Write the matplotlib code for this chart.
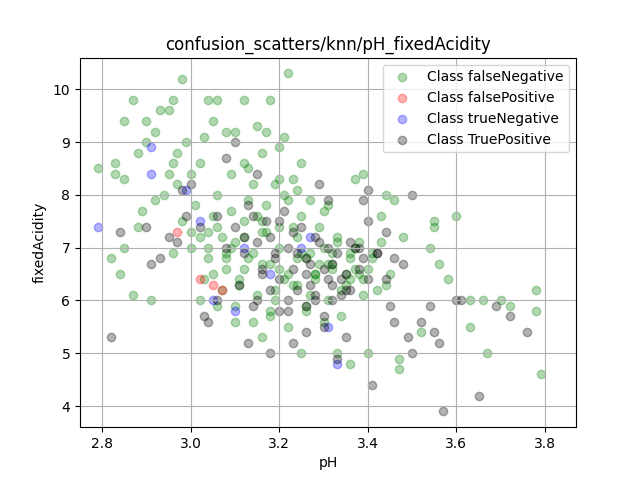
import matplotlib
matplotlib.use('Agg')
import matplotlib.pyplot as plt

# estimated points
fn_x = [2.79, 2.83, 2.83, 2.85, 2.85, 2.87, 2.88, 2.90, 2.90, 2.92, 2.93, 2.95, 2.96, 2.98, 2.99, 2.97,
        2.96, 2.95, 3.04, 3.06, 3.05, 3.03, 3.08, 3.10, 3.12, 3.15, 3.17, 3.18, 3.22, 3.21, 3.20, 3.25,
        3.37, 3.39, 3.44, 3.46, 3.43, 3.48, 3.55, 3.55, 3.60, 3.54, 3.56, 3.58, 3.63, 3.66, 3.70, 3.72,
        3.78, 3.78, 3.79, 3.67, 3.63, 3.52, 3.47, 3.47, 3.40, 3.36, 3.33, 3.25, 3.16, 3.10, 3.06, 2.91,
        2.87, 2.84, 2.82, 2.85, 2.88, 2.89, 2.92, 2.94, 2.97, 3.00, 3.02,
        3.00, 3.02, 3.04, 3.06, 3.08, 3.10, 3.12, 3.14, 3.16, 3.18, 3.20, 3.22, 3.24, 3.26, 3.28, 3.30,
        3.32, 3.34, 3.36, 3.38, 3.01, 3.03, 3.05, 3.07, 3.09, 3.11, 3.13, 3.15, 3.17, 3.19, 3.21, 3.23,
        3.25, 3.27, 3.29, 3.31, 3.33, 3.35, 3.37, 3.39, 3.41, 2.98, 3.02, 3.06, 3.10, 3.14, 3.18, 3.22,
        3.26, 3.30, 3.34, 3.38, 3.42, 3.04, 3.08, 3.12, 3.16, 3.20, 3.24, 3.28, 3.32, 3.36, 3.40, 3.44,
        3.05, 3.09, 3.13, 3.17, 3.21, 3.25, 3.29, 3.33, 3.37, 3.41, 3.45, 3.07, 3.11, 3.15, 3.19, 3.23,
        3.27, 3.31, 3.35, 3.39, 3.43, 2.96, 3.00, 3.04, 3.08, 3.12, 3.16, 3.20, 3.24, 3.28, 3.32, 3.36,
        3.14, 3.18, 3.22, 3.26, 3.30, 3.20, 3.24, 3.12, 3.16, 3.09, 3.13, 3.19, 3.23, 3.27, 3.31]
fn_y = [8.5, 8.6, 8.4, 8.3, 9.4, 9.8, 8.8, 9.4, 9.0, 9.2, 9.6, 9.6, 9.8, 10.2, 9.0, 8.8,
        8.6, 8.4, 9.8, 9.8, 9.4, 9.1, 9.2, 9.2, 9.8, 9.3, 9.2, 9.8, 10.3, 9.1, 8.9, 8.6,
        8.3, 8.4, 8.0, 7.9, 7.6, 7.2, 7.5, 7.4, 7.6, 7.0, 6.7, 6.4, 6.0, 6.0, 6.0, 5.9,
        6.2, 5.8, 4.6, 5.0, 5.5, 5.4, 4.9, 4.7, 5.0, 4.8, 5.0, 5.0, 5.3, 5.6, 5.9, 6.0,
        6.1, 6.5, 6.8, 7.0, 7.4, 7.7, 7.9, 8.0, 8.2, 8.4, 8.6,
        7.0, 7.2, 6.8, 7.4, 6.6, 7.1, 7.5, 6.9, 7.3, 6.7, 7.0, 6.5, 7.2, 6.8, 6.4, 7.0,
        6.6, 6.2, 6.9, 6.5, 7.8, 6.4, 7.6, 6.2, 7.7, 6.3, 7.9, 6.1, 7.8, 6.0, 8.0, 6.3,
        7.6, 6.1, 7.4, 6.0, 7.2, 6.3, 7.0, 6.1, 6.8, 7.5, 6.0, 8.0, 5.9, 8.2, 5.8, 7.9,
        5.8, 7.7, 5.7, 7.1, 6.2, 7.3, 6.9, 6.6, 7.5, 6.6, 6.8, 6.5, 6.7, 6.4, 6.6, 6.3,
        6.5, 7.0, 6.8, 7.3, 6.4, 6.9, 6.7, 7.1, 6.6, 6.9, 6.5, 7.2, 6.4, 7.6, 6.2, 7.4,
        6.9, 6.7, 6.5, 6.4, 7.1, 6.9, 7.3, 7.0, 6.8, 7.2, 6.7, 7.4, 6.3, 6.5, 6.9, 6.8,
        5.6, 5.7, 5.5, 5.9, 5.6, 8.3, 8.1, 8.6, 8.8, 8.4, 8.5, 8.2, 8.3, 7.9, 7.8]

fp_x = [2.97, 3.05, 3.07, 3.02]
fp_y = [7.3, 6.3, 6.2, 6.4]

tn_x = [2.79, 2.91, 2.91, 2.99, 3.02, 3.12, 3.25, 3.27, 3.33, 3.31, 3.05, 3.10, 3.18]
tn_y = [7.4, 8.4, 8.9, 8.1, 7.5, 7.0, 7.0, 7.2, 4.8, 5.5, 6.0, 5.8, 6.5]

tp_x = [2.82, 3.76, 3.65, 3.57, 3.41, 3.72, 3.69, 3.60, 3.61, 3.54, 3.52, 3.50, 3.49, 3.46, 3.55,
        3.56, 3.45, 3.44, 3.42, 3.48, 3.44, 3.46, 3.40, 3.40, 3.39, 3.50, 3.29, 3.31, 2.84, 2.90,
        2.91, 2.93, 2.95, 2.97, 2.98, 3.00, 2.99, 3.08, 3.10, 3.15, 3.06, 3.03, 3.04, 3.13, 3.18,
        3.23, 3.26, 3.30, 3.33, 3.35, 3.22, 3.28,
        3.10, 3.12, 3.14, 3.16, 3.18, 3.20, 3.22, 3.24, 3.26, 3.28, 3.30, 3.32, 3.34, 3.36, 3.38,
        3.11, 3.13, 3.15, 3.17, 3.19, 3.21, 3.23, 3.25, 3.27, 3.29, 3.31, 3.33, 3.35, 3.37, 3.15,
        3.19, 3.23, 3.27, 3.31, 3.35, 3.39, 3.08, 3.12, 3.16, 3.20, 3.24, 3.28, 3.32, 3.36, 3.40,
        3.18, 3.22, 3.26, 3.30, 3.34, 3.02, 3.06, 3.38, 3.42, 3.14, 3.20, 3.26, 3.32]
tp_y = [5.3, 5.4, 4.2, 3.9, 4.4, 5.7, 5.9, 6.0, 6.0, 5.9, 5.6, 5.0, 5.3, 5.6, 5.4,
        5.2, 5.9, 6.4, 6.9, 6.7, 7.3, 6.8, 7.5, 8.1, 7.9, 8.0, 8.2, 7.9, 7.3, 7.4,
        6.7, 6.8, 7.2, 7.1, 8.1, 8.2, 7.6, 8.7, 9.0, 8.4, 6.0, 5.7, 5.6, 5.2, 5.0,
        5.2, 5.4, 5.5, 4.9, 5.3, 5.8, 6.0,
        7.4, 6.9, 7.6, 6.6, 7.2, 6.4, 7.0, 6.2, 6.8, 6.1, 6.6, 6.0, 6.4, 6.2, 6.6,
        6.3, 7.8, 6.0, 7.5, 6.8, 7.7, 6.6, 7.4, 6.3, 7.1, 6.4, 6.9, 6.2, 7.0, 7.1,
        6.9, 7.3, 6.7, 7.0, 6.5, 6.8, 7.0, 7.2, 6.5, 7.5, 6.9, 7.2, 6.7, 7.1, 6.4,
        6.2, 6.0, 5.9, 5.7, 6.1, 7.4, 7.6, 7.0, 6.9, 5.9, 5.8, 6.5, 6.3]

fig, ax = plt.subplots(figsize=(6.4, 4.8), dpi=100)
ax.scatter(fn_x, fn_y, c='green', alpha=0.3, label='Class falseNegative')
ax.scatter(fp_x, fp_y, c='red', alpha=0.3, label='Class falsePositive')
ax.scatter(tn_x, tn_y, c='blue', alpha=0.3, label='Class trueNegative')
ax.scatter(tp_x, tp_y, c='black', alpha=0.3, label='Class TruePositive')
ax.set_xlim(2.75, 3.87)
ax.set_ylim(3.6, 10.6)
ax.set_xlabel('pH')
ax.set_ylabel('fixedAcidity')
ax.set_title('confusion_scatters/knn/pH_fixedAcidity')
ax.grid(True)
ax.legend(loc='upper right')
fig.savefig('out.png')
